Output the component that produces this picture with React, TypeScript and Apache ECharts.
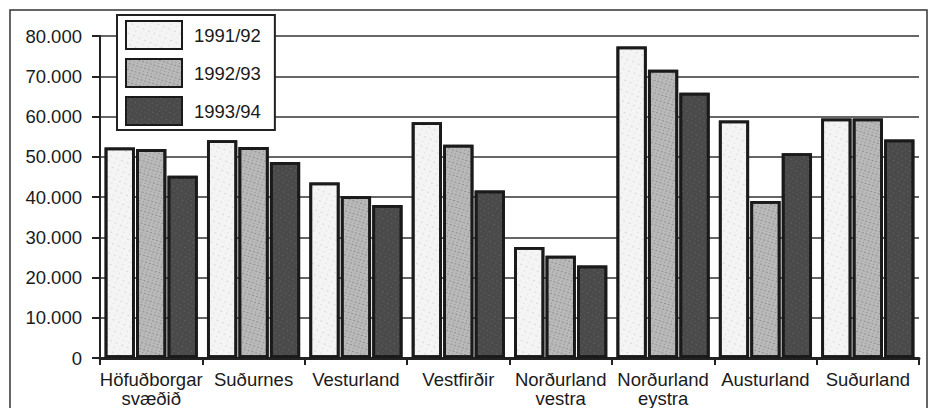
import React, { useEffect, useRef } from "react";
import * as echarts from "echarts";

const categories = [
  "Höfuðborgar\nsvæðið",
  "Suðurnes",
  "Vesturland",
  "Vestfirðir",
  "Norðurland\nvestra",
  "Norðurland\neystra",
  "Austurland",
  "Suðurland",
];
const seriesNames = ["1991/92", "1992/93", "1993/94"];
const values1991 = [52300, 54100, 43600, 58600, 27600, 77400, 59000, 59500];
const values1992 = [51900, 52400, 40200, 53000, 25400, 71600, 39000, 59500];
const values1993 = [45300, 48700, 38000, 41600, 23000, 65900, 50900, 54300];
const yTicks = [0, 10000, 20000, 30000, 40000, 50000, 60000, 70000, 80000];

const FONT = "'Liberation Sans', Arial, Helvetica, sans-serif";
const INK = "#222";

function fmt(v: number): string {
  return String(v).replace(/\B(?=(\d{3})+(?!\d))/g, ".");
}

export default function App() {
  const ref = useRef<HTMLDivElement>(null);
  useEffect(() => {
    if (!ref.current) return;
    const chart = echarts.init(ref.current, undefined, { renderer: "svg" });
    const fills = ["#f4f4f4", "#b9b9b9", "#4a4a4a"];
    const decals = [
      { symbol: "rect", symbolSize: 1, color: "rgba(150,150,150,0.3)", dashArrayX: [[1, 5], [2, 4]], dashArrayY: [1, 4], rotation: 0.4 },
      { symbol: "rect", symbolSize: 1, color: "rgba(80,80,80,0.4)", dashArrayX: [[2, 2], [1, 3]], dashArrayY: [1, 2], rotation: 0.3 },
      { symbol: "rect", symbolSize: 1, color: "rgba(140,140,140,0.3)", dashArrayX: [[1, 3], [2, 3]], dashArrayY: [1, 3], rotation: 0.5 },
    ];
    const data = [values1991, values1992, values1993];
    chart.setOption({
      animation: false,
      backgroundColor: "#ffffff",
      textStyle: { fontFamily: FONT },
      grid: { left: 100, right: 10, top: 36, bottom: 48, containLabel: false },
      legend: {
        orient: "vertical",
        left: 117,
        top: 15,
        padding: [5, 14, 4, 8],
        itemWidth: 56,
        itemHeight: 28,
        itemGap: 8,
        icon: "rect",
        backgroundColor: "#ffffff",
        borderColor: INK,
        borderWidth: 2,
        borderRadius: 0,
        z: 10,
        data: seriesNames,
        textStyle: { fontSize: 18.5, color: "#1a1a1a", fontFamily: FONT, padding: [0, 0, 0, 7] },
      },
      xAxis: {
        type: "category",
        data: categories,
        axisLine: { lineStyle: { color: INK, width: 3 } },
        axisTick: { show: true, length: 7, lineStyle: { color: INK, width: 2 } },
        axisLabel: {
          interval: 0,
          margin: 12,
          fontSize: 18.5,
          lineHeight: 19,
          color: "#1a1a1a",
          fontFamily: FONT,
        },
        splitLine: { show: false },
      },
      yAxis: {
        type: "value",
        min: 0,
        max: yTicks[yTicks.length - 1],
        interval: yTicks[1] - yTicks[0],
        axisLine: { show: true, lineStyle: { color: INK, width: 2 } },
        axisTick: { show: true, length: 8, lineStyle: { color: INK, width: 2 } },
        axisLabel: {
          margin: 18,
          fontSize: 18.5,
          color: "#1a1a1a",
          fontFamily: FONT,
          formatter: (v: number) => fmt(v),
        },
        splitLine: { show: true, lineStyle: { color: "#333", width: 1.6 } },
      },
      series: seriesNames.map((name, i) => ({
        name,
        type: "bar",
        data: data[i],
        barCategoryGap: "9%",
        barGap: "4%",
        itemStyle: {
          color: fills[i],
          borderColor: "#1a1a1a",
          borderWidth: 2.8,
          decal: decals[i],
        },
      })),
      graphic: [
        {
          type: "rect",
          x: 10,
          y: 10,
          silent: true,
          z: -1,
          shape: { x: 0, y: 0, width: 917, height: 420 },
          style: { fill: "none", stroke: "#333", lineWidth: 1.5 },
        },
      ],
    });
    return () => chart.dispose();
  }, []);
  return (
    <div
      ref={ref}
      style={{ position: "fixed", left: 0, top: 0, width: 929, height: 408, background: "#fff" }}
    />
  );
}
